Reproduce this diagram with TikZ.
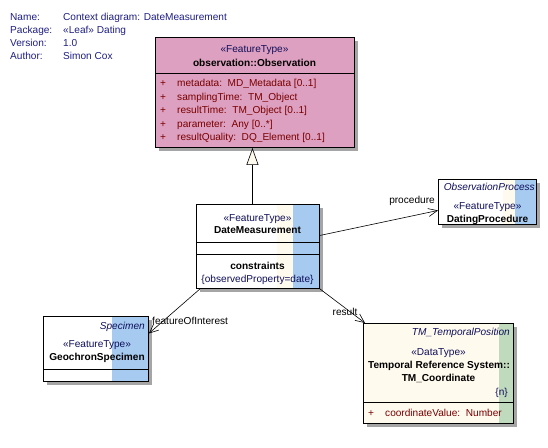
\documentclass[tikz,border=0pt]{standalone}
\usepackage{fontspec}
\setmainfont{Liberation Sans}
\usetikzlibrary{arrows.meta,calc}
\definecolor{hdr}{RGB}{30,30,130}
\definecolor{obsfill}{RGB}{222,160,192}
\definecolor{attr}{RGB}{120,0,0}
\definecolor{bluestrip}{RGB}{166,202,240}
\definecolor{creamfill}{RGB}{255,250,238}
\definecolor{greenstrip}{RGB}{192,218,190}
\definecolor{shadowgray}{RGB}{165,165,165}
\definecolor{navytext}{RGB}{15,15,90}
\tikzset{
  umlbox/.style={draw=black, line width=0.9pt, anchor=north west, inner sep=0pt},
  txt/.style={inner sep=0pt, anchor=base},
  stereo/.style={txt, text=navytext},
  cname/.style={txt, font=\fontsize{10.1}{12}\bfseries\selectfont},
  attrtxt/.style={txt, anchor=base west, text=attr},
  hdrtxt/.style={txt, anchor=base west, text=hdr},
  assoc/.style={draw=black, line width=0.6pt, -{Straight Barb[length=9pt,width=8pt,line width=0.6pt]}},
  gener/.style={draw=black, line width=0.8pt, -{Triangle[open, fill=creamfill, length=17pt, width=12pt, line width=0.6pt]}},
  lbl/.style={inner sep=0pt, anchor=base}
}
\begin{document}
\begin{tikzpicture}[x=1pt,y=-1pt,font=\fontsize{10.1}{12}\selectfont]
\useasboundingbox (0,0) rectangle (548,447);
% header
\node[hdrtxt] (hn) at (10,20) {Name:};
\node[hdrtxt] (hp) at (10,33) {Package:};
\node[hdrtxt] (hv) at (10,46) {Version:};
\node[hdrtxt] (ha) at (10,59) {Author:};
\node[hdrtxt] (hn2) at (63,20) {Context diagram: DateMeasurement};
\node[hdrtxt] (hp2) at (63,33) {«Leaf» Dating};
\node[hdrtxt] (hv2) at (63,46) {1.0};
\node[hdrtxt] (ha2) at (63,59) {Simon Cox};

% Observation
\fill[shadowgray] (159,41) rectangle (358,151);
\node[umlbox, fill=obsfill, minimum width=199pt, minimum height=110pt] (obs) at (155,37) {};
\draw[line width=0.9pt] (155,73) -- (354,73);
\node[stereo] (obsst) at (254.5,52.5) {«FeatureType»};
\node[cname] (obsnm) at (254.5,66.5) {observation::Observation};
\foreach \yy/\t in {86.5/{metadata:\ \ MD\_Metadata [0..1]},100/{samplingTime:\ \ TM\_Object},113.5/{resultTime:\ \ TM\_Object [0..1]},127/{parameter:\ \ Any [0..*]},140.5/{resultQuality:\ \ DQ\_Element [0..1]}}{
  \node[attrtxt] at (160,\yy) {+};
  \node[attrtxt] at (177,\yy) {\t};
}

% DateMeasurement
\fill[shadowgray] (200,208) rectangle (323,292);
\fill[white] (196,204) rectangle (319,288);
\fill[creamfill] (277,204) rectangle (293,288);
\fill[bluestrip] (293,204) rectangle (319,288);
\node[umlbox, minimum width=123pt, minimum height=84pt] (dm) at (196,204) {};
\draw[line width=0.9pt] (196,242) -- (319,242);
\draw[line width=0.9pt] (196,254) -- (319,254);
\node[stereo] (dmst) at (257.5,221.5) {«FeatureType»};
\node[cname] (dmnm) at (257.5,233.5) {DateMeasurement};
\node[cname] (dmc) at (257.5,269.5) {constraints};
\node[stereo] (dmc2) at (257.5,282.5) {\{observedProperty=date\}};

% DatingProcedure
\fill[shadowgray] (442,183) rectangle (540,228);
\fill[white] (438,179) rectangle (536,224);
\fill[creamfill] (503,179) rectangle (515,224);
\fill[bluestrip] (515,179) rectangle (536,224);
\node[umlbox, minimum width=98pt, minimum height=45pt] (dp) at (438,179) {};
\node[txt, anchor=base east, text=navytext, font=\fontsize{10.1}{12}\itshape\selectfont] (dpp) at (535,190.5) {ObservationProcess};
\node[stereo] (dpst) at (487.5,209.5) {«FeatureType»};
\node[cname] (dpnm) at (487.5,222.5) {DatingProcedure};

% GeochronSpecimen
\fill[shadowgray] (47,320) rectangle (152,385);
\fill[white] (43,316) rectangle (148,381);
\fill[bluestrip] (112,316) rectangle (148,381);
\node[umlbox, minimum width=105pt, minimum height=65pt] (gs) at (43,316) {};
\draw[line width=0.9pt] (43,369) -- (148,369);
\node[txt, anchor=base east, text=navytext, font=\fontsize{10.1}{12}\itshape\selectfont] (gsp) at (145,329.5) {Specimen};
\node[stereo] (gsst) at (97,347.5) {«FeatureType»};
\node[cname] (gsnm) at (97,360.5) {GeochronSpecimen};

% TM_Coordinate
\fill[shadowgray] (367,327) rectangle (517,427);
\fill[creamfill] (363,323) rectangle (513,423);
\fill[greenstrip] (499,323) rectangle (513,423);
\node[umlbox, minimum width=150pt, minimum height=100pt] (tc) at (363,323) {};
\draw[line width=0.9pt] (363,402) -- (513,402);
\node[txt, anchor=base east, text=navytext, font=\fontsize{10.1}{12}\itshape\selectfont] (tcp) at (510,335.5) {TM\_TemporalPosition};
\node[stereo] (tcst) at (438.5,355.5) {«DataType»};
\node[cname] (tcnm) at (439,368.5) {Temporal Reference System::};
\node[cname] (tcnm2) at (438.5,381) {TM\_Coordinate};
\node[txt, anchor=base east, text=navytext] (tcn) at (508,395.5) {\{n\}};
\node[attrtxt] (tcplus) at (368,416.5) {+};
\node[attrtxt] (tcattr) at (385,416.5) {coordinateValue:\ \ Number};

% connectors
\draw[gener] ([xshift=-5.5pt]dm.north) -- ([xshift=-2.5pt]obs.south);
\draw[assoc] ([yshift=11pt]dm.east) -- ([yshift=-8.5pt]dp.west);
\draw[assoc] ([xshift=4pt]dm.south west) -- ([yshift=15.5pt]gs.east);
\draw[assoc] (dm.south east) -- ([xshift=2pt]tc.north west);
\node[lbl] (lproc) at (412,203.5) {procedure};
\node[lbl, anchor=base west] (lfoi) at (152,324.5) {featureOfInterest};
\node[lbl] (lres) at (345,315.5) {result};
\end{tikzpicture}
\end{document}
